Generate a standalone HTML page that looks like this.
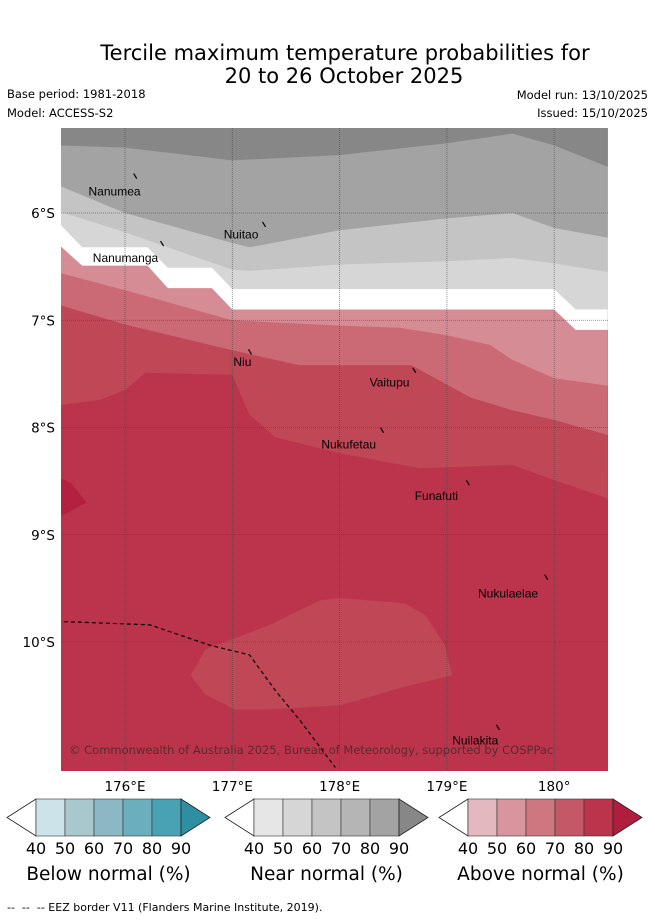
<!DOCTYPE html>
<html><head><meta charset="utf-8"><style>
html,body{margin:0;padding:0;background:#fff;}
body{width:655px;height:919px;overflow:hidden;font-family:"Liberation Sans","DejaVu Sans",sans-serif;}
svg text{font-family:"DejaVu Sans","Liberation Sans",sans-serif;}
svg text.isl{font-family:"Liberation Sans",sans-serif;}
</style></head><body>
<svg id="chart" width="655" height="919" viewBox="0 0 655 919" xmlns="http://www.w3.org/2000/svg">
<text x="345" y="60" font-size="21" text-anchor="middle">Tercile maximum temperature probabilities for</text>
<text x="344" y="83" font-size="21" text-anchor="middle">20 to 26 October 2025</text>
<text x="7" y="98" font-size="11.5">Base period: 1981-2018</text>
<text x="7" y="117" font-size="11.5">Model: ACCESS-S2</text>
<text x="648" y="99" font-size="11.5" text-anchor="end">Model run: 13/10/2025</text>
<text x="648" y="117" font-size="11.5" text-anchor="end">Issued: 15/10/2025</text>
<defs><clipPath id="mapclip"><rect x="61" y="128" width="547" height="643"/></clipPath></defs>
<g id="map" clip-path="url(#mapclip)"></g>
<g id="over"></g>
<g id="bars"></g>
<text x="7" y="911" font-size="11" xml:space="preserve">--  --  -- EEZ border V11 (Flanders Marine Institute, 2019).</text>
</svg>
<script>
const bandColors = ["#878787","#a3a3a3","#c4c4c4","#d6d6d6","#ffffff","#d68c94","#cb6a74","#c04756","#bb344b"];
const b1 = [[175.40,5.37],[176,5.39],[177,5.51],[178,5.46],[179,5.35],[179.61,5.26],[180,5.37],[180.5,5.57]];
const b2 = [[175.40,5.75],[176,6.0],[177,6.28],[177.16,6.32],[178,6.16],[179,6.05],[179.61,6.0],[180,6.14],[180.5,6.23]];
const b3 = [[175.40,5.99],[176,6.18],[177,6.53],[177.16,6.54],[178,6.48],[179,6.45],[179.61,6.42],[180,6.47],[180.5,6.55]];
const b4 = [[175.40,6.11],[175.60,6.32],[176.21,6.32],[176.40,6.51],[176.81,6.51],[177,6.71],[180,6.71],[180.20,6.90],[180.5,6.90]];
const b5 = [[175.40,6.31],[175.60,6.49],[176.21,6.49],[176.40,6.70],[176.81,6.70],[177,6.90],[180,6.90],[180.20,7.09],[180.5,7.09]];
const b6 = [[175.40,6.56],[176,6.72],[177,7.0],[178,7.05],[178.56,7.07],[179,7.14],[179.40,7.23],[179.61,7.37],[180,7.54],[180.5,7.61]];
const b7 = [[175.40,6.86],[176,7.04],[177,7.28],[177.63,7.42],[178.67,7.42],[179,7.60],[179.22,7.72],[179.61,7.84],[180,7.93],[180.5,8.07]];
const b8 = [[175.40,7.79],[175.77,7.74],[176,7.65],[176.19,7.49],[177,7.51],[177.16,7.88],[177.40,8.09],[178,8.24],[178.75,8.38],[179,8.37],[179.61,8.35],[180,8.49],[180.5,8.66]];
const patch70 = [[176.61,10.31],[176.75,10.07],[177.35,9.84],[177.82,9.61],[178.01,9.59],[178.61,9.64],[178.80,9.75],[178.98,10.03],[179.05,10.31],[178.56,10.43],[178.01,10.59],[177.30,10.63],[177.03,10.63],[176.75,10.49]];
const patch90 = [[175.40,8.47],[175.50,8.52],[175.64,8.70],[175.40,8.83]];
const eez = [[175.43,9.81],[176.23,9.84],[176.79,10.03],[177.16,10.12],[177.40,10.45],[177.63,10.73],[177.96,11.17]];
const lonTicks = [176,177,178,179,180];
const lonLabels = ["176°E","177°E","178°E","179°E","180°"];
const latTicks = [6,7,8,9,10];
const latLabels = ["6°S","7°S","8°S","9°S","10°S"];
const islandNames = ["Nanumea","Nuitao","Nanumanga","Niu","Vaitupu","Nukufetau","Funafuti","Nukulaelae","Nuilakita"];
const islandLon = [176.10,177.30,176.35,177.17,178.70,178.40,179.20,179.93,179.48];
const islandLat = [5.66,6.11,6.29,7.30,7.47,8.03,8.52,9.40,10.80];
const labelLon = [175.66,176.92,175.70,177.01,178.28,177.83,178.70,179.29,179.05];
const labelLat = [5.80,6.20,6.42,7.39,7.58,8.16,8.64,9.55,10.92];
const barTicks = ["40","50","60","70","80","90"];
const belowColors = ["#cce3e9","#a9c8cd","#8bb8c4","#6bafbe","#48a2b3","#2e8fa3"];
const nearColors = ["#e6e6e6","#d6d6d6","#c4c4c4","#b5b5b5","#a3a3a3","#878787"];
const aboveColors = ["#e3b8bf","#d9959d","#cf7780","#c45866","#bb344b","#b01e3e"];
const barTitles = ["Below normal (%)","Near normal (%)","Above normal (%)"];

const NS="http://www.w3.org/2000/svg";
const X = lon => 125 + (lon-176)*107.3;
const Y = lat => 213 + (lat-6)*107.25;
const map=document.getElementById('map'), over=document.getElementById('over'), bars=document.getElementById('bars');
function el(tag,attrs,parent){const e=document.createElementNS(NS,tag);for(const k in attrs)e.setAttribute(k,attrs[k]);parent.appendChild(e);return e;}
function pts(a){return a.map(p=>X(p[0]).toFixed(1)+","+Y(p[1]).toFixed(1)).join(" ");}
function above(b){return X(b[0][0])+","+Y(5.0)+" "+pts(b)+" "+X(b[b.length-1][0])+","+Y(5.0);}

let r=el('rect',{x:61,y:128,width:547,height:643,fill:bandColors[8]},map);


const bounds=[b8,b7,b6,b5,b4,b3,b2,b1];
const names=['band-70-80-above','band-60-70-above','band-50-60-above','band-normal-white','band-50-60-near','band-60-70-near','band-80-90-near','band-90-near'];
bounds.forEach((b,i)=>{
  const p=el('polygon',{points:above(b),fill:bandColors[7-i]},map);
  
  
});
let p1=el('polygon',{points:pts(patch70),fill:bandColors[7]},map);


let p2=el('polygon',{points:pts(patch90),fill:"#b42040"},map);


lonTicks.forEach((t,i)=>{
  const g=el('line',{x1:X(t),x2:X(t),y1:128,y2:771,stroke:"#444",'stroke-width':0.8,'stroke-dasharray':"1,1",opacity:0.7},map);
  
  
  const tx=el('text',{x:X(t),y:791,'font-size':13.5,'text-anchor':'middle'},over);tx.textContent=lonLabels[i];
  
  
});
latTicks.forEach((t,i)=>{
  const g=el('line',{x1:61,x2:608,y1:Y(t),y2:Y(t),stroke:"#444",'stroke-width':0.8,'stroke-dasharray':"1,1",opacity:0.7},map);
  
  
  const tx=el('text',{x:55,y:Y(t)+5,'font-size':13.5,'text-anchor':'end'},over);tx.textContent=latLabels[i];
  
  
});
let ez=el('polyline',{points:pts(eez),fill:'none',stroke:'#000','stroke-width':1.2,'stroke-dasharray':'4,3'},map);


islandNames.forEach((n,i)=>{
  const m=el('line',{x1:X(islandLon[i])-2,y1:Y(islandLat[i])-3,x2:X(islandLon[i])+1,y2:Y(islandLat[i])+2,stroke:'#000','stroke-width':1.2},map);
  
  
  const t=el('text',{x:X(labelLon[i]),y:Y(labelLat[i])+4,'font-size':12,'class':'isl'},map);t.textContent=n;
  
  
});
let cp=el('text',{x:69,y:754,'font-size':11.5,fill:'#5a2a30'},map);cp.textContent="© Commonwealth of Australia 2025, Bureau of Meteorology, supported by COSPPac";


[[7,belowColors],[225,nearColors],[439,aboveColors]].forEach((c,k)=>{
  const x0=c[0],cols=c[1],y0=799,y1=836,ym=817.5,L=x0+29,w=29;
  const lt=el('polygon',{points:`${x0},${ym} ${L},${y0} ${L},${y1}`,fill:'#fff',stroke:'#222','stroke-width':0.8},bars);
  
  
  for(let i=0;i<5;i++){
    const s=el('rect',{x:L+i*w,y:y0,width:w,height:y1-y0,fill:cols[i],stroke:'#333','stroke-width':0.6},bars);
    
    
  }
  const R=L+5*w;
  const rt=el('polygon',{points:`${R},${y0} ${R+29},${ym} ${R},${y1}`,fill:cols[5],stroke:'#222','stroke-width':0.8},bars);
  
  
  barTicks.forEach((t,i)=>{
    const tx=el('text',{x:L+i*w,y:854,'font-size':16,'text-anchor':'middle'},bars);tx.textContent=t;
    
    
  });
  const tt=el('text',{x:L+2.5*w,y:880,'font-size':18.5,'text-anchor':'middle'},bars);tt.textContent=barTitles[k];
  
  
});
</script>
</body></html>
